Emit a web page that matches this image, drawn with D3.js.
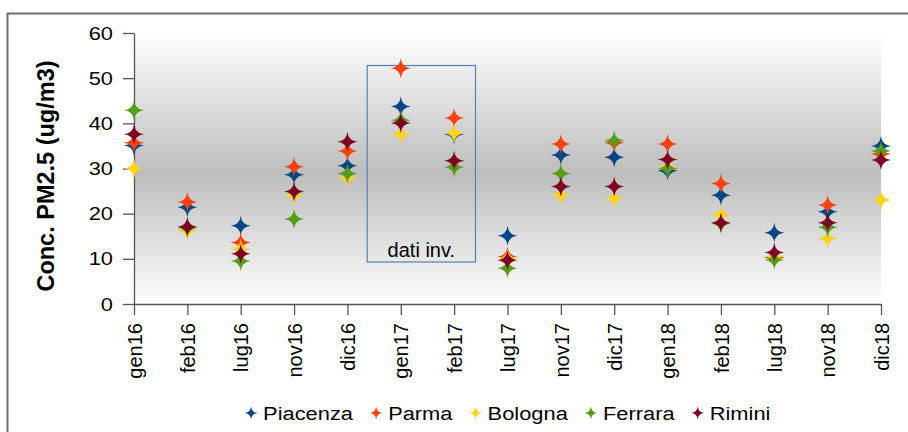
<!DOCTYPE html>
<html>
<head>
<meta charset="utf-8">
<script src="https://cdn.jsdelivr.net/npm/d3@7"></script>
<style>
  html, body { margin: 0; padding: 0; background: #fff; }
  svg { display: block; }
  text { font-family: "Liberation Sans", Arial, sans-serif; fill: #000; }
</style>
</head>
<body>
<svg id="chart" width="908" height="432"></svg>
<script>
// Monthly PM2.5 concentrations (ug/m3) by city
const categories = ["gen16","feb16","lug16","nov16","dic16","gen17","feb17","lug17","nov17","dic17","gen18","feb18","lug18","nov18","dic18"];
const piacenza = [35.1, 21.4, 17.3, 28.6, 30.6, 43.7, 37.6, 15.1, 33.0, 32.5, 29.5, 24.1, 15.8, 20.4, 35.0];
const parma    = [35.7, 22.6, 13.6, 30.4, 33.9, 52.2, 41.2, 10.5, 35.4, 35.7, 35.4, 26.7, 10.3, 21.9, 33.2];
const bologna  = [30.0, 16.2, 12.1, 24.1, 28.0, 37.6, 37.8, 10.1, 24.1, 23.4, 30.4, 19.7, 10.5, 14.5, 23.0];
const ferrara  = [42.9, 16.8,  9.5, 18.8, 28.9, 40.7, 30.3,  7.9, 28.9, 36.2, 30.0, 17.8,  9.8, 17.0, 33.9];
const rimini   = [37.6, 17.1, 11.1, 24.9, 35.9, 40.1, 31.7,  9.7, 26.0, 26.0, 32.0, 18.0, 11.4, 18.0, 31.9];
const seriesNames  = ["Piacenza", "Parma", "Bologna", "Ferrara", "Rimini"];
const seriesColors = ["#004586", "#ff420e", "#ffd320", "#579d1c", "#7e0021"];
const yTicks = [0, 10, 20, 30, 40, 50, 60];
const yTitle = "Conc. PM2.5 (ug/m3)";
const noteText = "dati inv.";

const seriesValues = [piacenza, parma, bologna, ferrara, rimini];
const series = seriesNames.map((name, i) => ({
  name, color: seriesColors[i],
  points: categories.map((c, j) => ({ cat: c, value: seriesValues[i][j] }))
}));

const svg = d3.select("#chart");
const plot = { left: 134, right: 881, top: 33, bottom: 304 };
const wide = 1.15; // horizontal text widening

const x = d3.scalePoint().domain(categories).range([plot.left, plot.right]);
const y = d3.scaleLinear().domain([0, 60]).range([plot.bottom, plot.top]);

// four-pointed star marker
function star(r) {
  const c = r * 0.09;
  return `M0,${-r} Q${c},${-c} ${r},0 Q${c},${c} 0,${r} Q${-c},${c} ${-r},0 Q${-c},${-c} 0,${-r}Z`;
}

// outer frame
svg.append("rect")
  .attr("x", 7.5).attr("y", 13.5)
  .attr("width", 1000).attr("height", 1000)
  .attr("fill", "none").attr("stroke", "#6e6e6e").attr("stroke-width", 2);

// plot-area background: axial grey gradient
const defs = svg.append("defs");
const grad = defs.append("linearGradient").attr("id", "wall")
  .attr("x1", 0).attr("y1", 0).attr("x2", 0).attr("y2", 1);
grad.append("stop").attr("offset", "0%").attr("stop-color", "#fefefe");
grad.append("stop").attr("offset", "52%").attr("stop-color", "#bdbdbd");
grad.append("stop").attr("offset", "100%").attr("stop-color", "#fefefe");

svg.append("rect")
  .attr("x", plot.left).attr("y", plot.top)
  .attr("width", plot.right - plot.left).attr("height", plot.bottom - plot.top)
  .attr("fill", "url(#wall)");

// y axis
const yAxis = svg.append("g")
  .attr("transform", `translate(${plot.left},0)`)
  .call(d3.axisLeft(y).tickValues(yTicks).tickSize(11).tickSizeOuter(0));
yAxis.select(".domain").attr("stroke", "#555").attr("stroke-width", 1.3);
yAxis.selectAll(".tick line").attr("stroke", "#555").attr("stroke-width", 1.3);
yAxis.selectAll(".tick text")
  .style("font-size", "19px").attr("fill", "#000")
  .attr("x", 0)
  .attr("transform", `translate(-21,0) scale(${wide},1)`);

// x axis with vertical labels
const xAxis = svg.append("g")
  .attr("transform", `translate(0,${plot.bottom})`)
  .call(d3.axisBottom(x).tickSize(11).tickSizeOuter(0));
xAxis.select(".domain").attr("stroke", "#555").attr("stroke-width", 1.3);
xAxis.selectAll(".tick line").attr("stroke", "#555").attr("stroke-width", 1.3);
xAxis.selectAll(".tick text")
  .style("font-size", "20px").attr("fill", "#000")
  .attr("transform", "rotate(-90)")
  .attr("text-anchor", "end")
  .attr("x", -19).attr("y", 0).attr("dy", "0.36em");

// y axis title
svg.append("text")
  .attr("transform", `translate(54,176) rotate(-90)`)
  .attr("text-anchor", "middle")
  .style("font-size", "23.5px").style("font-weight", "bold")
  .text(yTitle);

// annotation box over the winter 2017 samples
const step = x.step();
const boxX0 = x("gen17") - step * 0.63;
const boxX1 = x("feb17") + step * 0.4;
svg.append("rect")
  .attr("x", boxX0).attr("y", y(52.8))
  .attr("width", boxX1 - boxX0).attr("height", y(9.3) - y(52.8))
  .attr("fill", "none").attr("stroke", "#5a7fb6").attr("stroke-width", 1.2);
svg.append("text")
  .attr("x", (boxX0 + boxX1) / 2).attr("y", y(9.3) - 5)
  .attr("text-anchor", "middle")
  .style("font-size", "20px")
  .text(noteText);

// markers
svg.append("g").selectAll("g")
  .data(series).join("g")
  .attr("fill", d => d.color)
  .selectAll("path")
  .data(d => d.points).join("path")
  .attr("transform", p => `translate(${x(p.cat)},${y(p.value)})`)
  .attr("d", star(10));

// legend
const legend = svg.append("g").attr("transform", "translate(0,413)");
const items = legend.selectAll("g").data(series).join("g");
items.append("path").attr("d", star(6.5)).attr("fill", d => d.color);
items.append("text")
  .attr("transform", `translate(12,0) scale(${wide},1)`)
  .attr("dy", "0.36em")
  .style("font-size", "19px").text(d => d.name);
const widths = [];
items.each(function () { widths.push(this.getBBox().width); });
const gap = 16;
const total = d3.sum(widths) + gap * (widths.length - 1);
let cursor = (plot.left + plot.right) / 2 - total / 2 + 6.5;
items.attr("transform", (d, i) => {
  const t = `translate(${cursor},0)`;
  cursor += widths[i] + gap;
  return t;
});
</script>
</body>
</html>
